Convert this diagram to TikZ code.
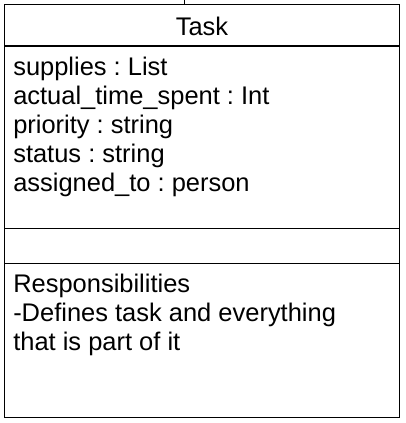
\documentclass[tikz,border=0pt]{standalone}
\usepackage{fontspec}
\setmainfont{Liberation Sans}
\frenchspacing
\begin{document}
\begin{tikzpicture}[x=0.75pt,y=-0.75pt,
  frame/.style={draw=black,line width=1.1pt},
  txt/.style={inner sep=0pt,anchor=base west,font=\fontsize{19.1pt}{22pt}\selectfont},
  ttl/.style={inner sep=0pt,anchor=base,font=\fontsize{19.1pt}{22pt}\selectfont}]
\useasboundingbox (0,0) rectangle (405,423);
% class box
\coordinate (tl) at (4.3,4.7);
\coordinate (br) at (399.5,417.3);
\draw[frame] (tl) rectangle (br);
\coordinate (d1l) at (4.3,46); \coordinate (d1r) at (399.5,46);
\coordinate (d2l) at (4.3,228.5); \coordinate (d2r) at (399.5,228.5);
\coordinate (d3l) at (4.3,263.3); \coordinate (d3r) at (399.5,263.3);
\draw[frame] (d1l) -- (d1r);
\draw[frame] (d2l) -- (d2r);
\draw[frame] (d3l) -- (d3r);
% connector at top
\coordinate (cin) at (184.3,0);
\coordinate (cat) at (184.3,4.7);
\draw[line width=0.8pt] (cin) -- (cat);
% title
\node[ttl] (title) at (202,36) {Task};
% attributes
\node[txt] (a1) at (13,75.5) {supplies : List};
\node[txt] (a2) at (13,104.5) {actual\_time\_spent : Int};
\node[txt] (a3) at (13,133.5) {priority : string};
\node[txt] (a4) at (13,162.5) {status : string};
\node[txt] (a5) at (13,191.5) {assigned\_to : person};
% responsibilities
\node[txt] (r1) at (13,292.5) {Responsibilities};
\node[txt] (r2) at (13,321.5) {-Defines task and everything};
\node[txt] (r3) at (13,350.5) {that is part of it};
\end{tikzpicture}
\end{document}
